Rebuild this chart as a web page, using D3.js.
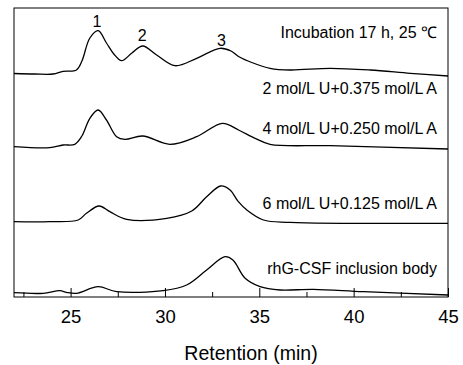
<!DOCTYPE html>
<html>
<head>
<meta charset="utf-8">
<script src="https://cdn.jsdelivr.net/npm/d3@7"></script>
<style>
  body { margin: 0; background: #fff; }
  text { font-family: "Liberation Sans", Arial, sans-serif; fill: #000; }
</style>
</head>
<body>
<svg id="chart" width="463" height="365"></svg>
<script>
// retention (min) and detector response (arbitrary units, traces already stacked)
const incubation = [
  [22.0, 223.5], [23.1, 223], [24.07, 223], [24.6, 225.7], [25.31, 227], [25.6, 236],
  [26.02, 259], [26.46, 266.3], [26.9, 254], [27.29, 243], [27.7, 236.3], [28.25, 244],
  [28.82, 251], [29.56, 242], [30.53, 231.3], [31.68, 238.7], [32.92, 248.7], [33.5, 246],
  [33.95, 240], [34.6, 234.5], [35.57, 228.7], [36.63, 227], [38.76, 228.7], [40.88, 227],
  [43.0, 223.7], [45.0, 221]
];
const u2a375 = [
  [22.0, 150.3], [23.89, 149.3], [24.6, 152], [25.22, 152.7], [25.6, 161], [26.02, 178.7],
  [26.46, 187], [26.9, 177], [27.44, 160.3], [27.88, 157.7], [28.82, 161], [30.26, 152.7],
  [31.68, 160.3], [33.05, 173.7], [33.9, 167], [34.78, 158.7], [35.57, 152.7],
  [38.76, 151.3], [45.0, 148]
];
const u4a250 = [
  [22.0, 75.3], [23.89, 75.3], [25.4, 77], [25.84, 83.7], [26.51, 91], [27.08, 85.3],
  [27.97, 77.7], [30.09, 78.7], [31.42, 86], [32.21, 100.3], [32.96, 111], [33.45, 107],
  [33.89, 95.3], [34.34, 87], [35.22, 77], [36.63, 74.7], [45.0, 73.7]
];
const inclusionBody = [
  [22.0, 4.3], [23.54, 3.7], [24.43, 6.3], [24.78, 4.7], [25.31, 3.7], [26.46, 10.3],
  [27.44, 5.3], [29.91, 6.3], [31.15, 12], [32.21, 27], [33.18, 40.3], [33.6, 37],
  [34.25, 18.7], [35.04, 10.3], [36.1, 7], [37.87, 7.7], [40.52, 5.3], [45.0, 2]
];
const traces = [incubation, u2a375, u4a250, inclusionBody];

const traceLabels = ["Incubation 17 h, 25 \u2103", "2 mol/L U+0.375 mol/L A",
  "4 mol/L U+0.250 mol/L A", "6 mol/L U+0.125 mol/L A", "rhG-CSF inclusion body"];
const labelLevels = [264.7, 208.7, 168.7, 93.7, 28.7];

const peakNames = ["1", "2", "3"];
const peakPos = [[26.4, 276], [28.8, 262], [33.0, 257]];

const majorTicks = [25, 30, 35, 40, 45];
const minorTicks = [22.5, 27.5, 32.5, 37.5, 42.5];

const svg = d3.select('#chart');
const plotL = 14, plotR = 448, plotT = 8, plotB = 297;

const x = d3.scaleLinear().domain([22, 45]).range([plotL, plotR]);
const y = d3.scaleLinear().domain([0, 289]).range([plotB, plotT]);

const line = d3.line()
  .x(d => x(d[0]))
  .y(d => y(d[1]))
  .curve(d3.curveCatmullRom.alpha(0.5));

svg.selectAll('.trace')
  .data(traces)
  .enter().append('path')
  .attr('class', 'trace')
  .attr('fill', 'none')
  .attr('stroke', '#000')
  .attr('stroke-width', 1.3)
  .attr('d', line);

// frame
svg.append('rect')
  .attr('x', plotL).attr('y', plotT)
  .attr('width', plotR - plotL).attr('height', plotB - plotT)
  .attr('fill', 'none').attr('stroke', '#000').attr('stroke-width', 1);

// inward ticks
const xAxis = svg.append('g').attr('transform', `translate(0,${plotB})`);
xAxis.call(d3.axisBottom(x).tickValues(majorTicks).tickSizeInner(-9).tickSizeOuter(0).tickPadding(13)
  .tickFormat(d3.format('d')));
xAxis.append('g').call(d3.axisBottom(x).tickValues(minorTicks).tickSizeInner(-5).tickSizeOuter(0).tickFormat(''));
xAxis.selectAll('.domain').remove();
xAxis.selectAll('line').attr('stroke', '#000');
xAxis.selectAll('text').attr('font-size', 18.5).attr('fill', '#000')
  .attr('font-family', '"Liberation Sans", Arial, sans-serif');

svg.append('text')
  .attr('x', 251).attr('y', 360)
  .attr('text-anchor', 'middle')
  .attr('font-size', 19.5)
  .text('Retention (min)');

svg.selectAll('.tlabel')
  .data(traceLabels)
  .enter().append('text')
  .attr('class', 'tlabel')
  .attr('x', 437)
  .attr('y', (d, i) => y(labelLevels[i]) + 5.5)
  .attr('text-anchor', 'end')
  .attr('font-size', 16)
  .text(d => d);

svg.selectAll('.peak')
  .data(peakNames)
  .enter().append('text')
  .attr('class', 'peak')
  .attr('x', (d, i) => x(peakPos[i][0]))
  .attr('y', (d, i) => y(peakPos[i][1]) + 5.5)
  .attr('text-anchor', 'middle')
  .attr('font-size', 16)
  .text(d => d);
</script>
</body>
</html>
